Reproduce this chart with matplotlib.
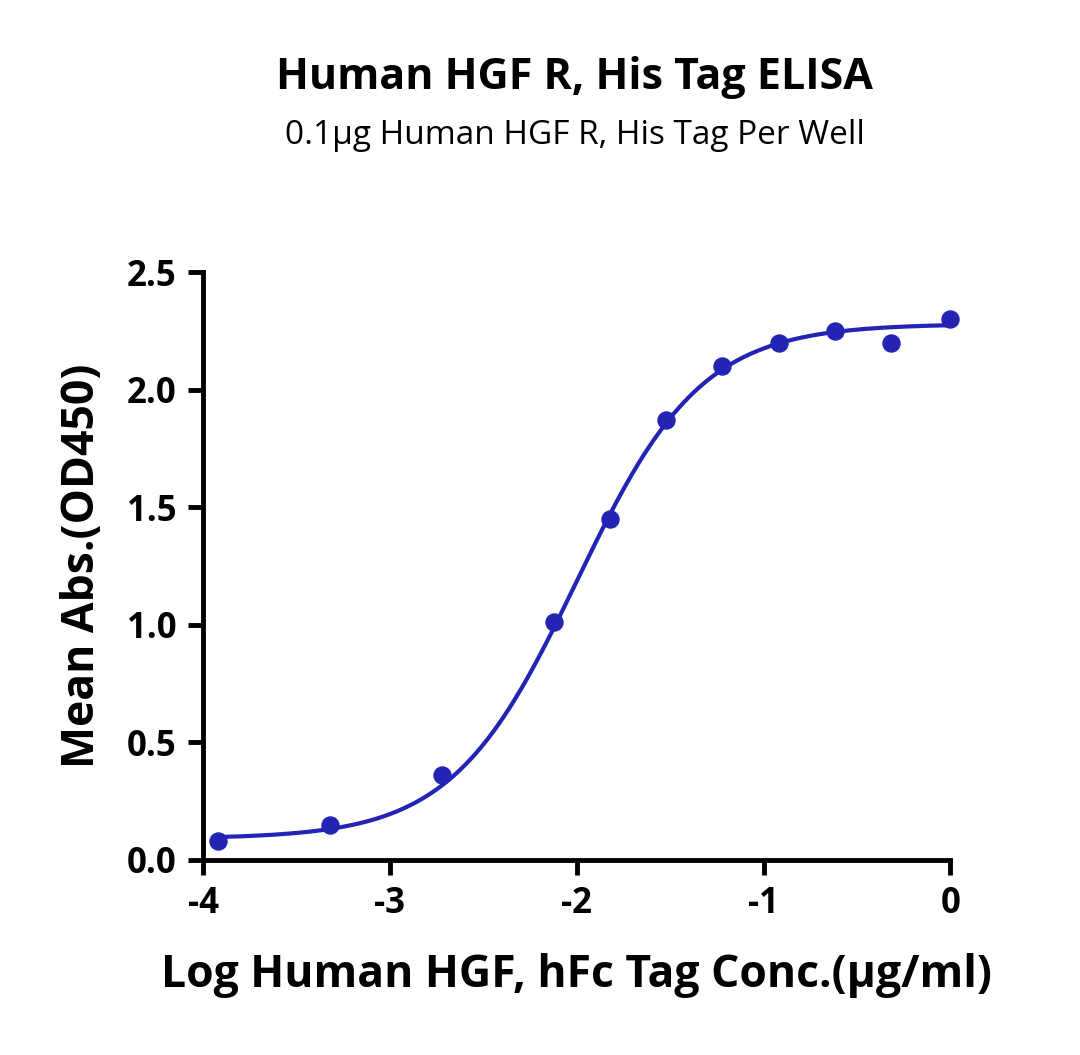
import numpy as np
import matplotlib
matplotlib.use("Agg")
import matplotlib.pyplot as plt

plt.rcParams['font.family'] = ['Open Sans', 'DejaVu Sans']

log_conc = [-3.92, -3.32, -2.72, -2.12, -1.82, -1.52, -1.22, -0.92, -0.62, -0.32, 0.0]
mean_abs = [0.08, 0.15, 0.36, 1.01, 1.45, 1.87, 2.10, 2.20, 2.25, 2.20, 2.30]

# 4PL fit parameters
fit_bottom, fit_top, fit_logec50, fit_hill = 0.09, 2.28, -2.0, 1.3

color = '#2323b4'

fig = plt.figure(figsize=(10.8, 10.55), dpi=100)
ax = fig.add_axes([0.188, 0.185, 0.692, 0.557])

xs = np.linspace(-3.92, 0.0, 300)
ys = fit_bottom + (fit_top - fit_bottom) / (1 + 10 ** ((fit_logec50 - xs) * fit_hill))
ax.plot(xs, ys, color=color, lw=3)
ax.scatter(log_conc, mean_abs, color=color, s=150, zorder=3, clip_on=False)

ax.set_xlim(-4, 0)
ax.set_ylim(0, 2.5)
ax.set_xticks([-4, -3, -2, -1, 0])
ax.set_xticklabels(['-4', '-3', '-2', '-1', '0'])
ax.set_yticks([0, 0.5, 1.0, 1.5, 2.0, 2.5])
ax.set_yticklabels(['0.0', '0.5', '1.0', '1.5', '2.0', '2.5'])
for s in ['top', 'right']:
    ax.spines[s].set_visible(False)
for s in ['left', 'bottom']:
    ax.spines[s].set_linewidth(3.5)
ax.tick_params(width=3.5, length=11, labelsize=25, pad=8)
for lab in ax.get_xticklabels() + ax.get_yticklabels():
    lab.set_fontweight('bold')

ax.set_xlabel('Log Human HGF, hFc Tag Conc.(μg/ml)', fontsize=32, fontweight='bold', labelpad=22)
ax.set_ylabel('Mean Abs.(OD450)', fontsize=32, fontweight='bold', labelpad=16)

fig.text(0.532, 0.927, 'Human HGF R, His Tag ELISA', ha='center', va='center', fontsize=31, fontweight='bold')
fig.text(0.532, 0.872, '0.1μg Human HGF R, His Tag Per Well', ha='center', va='center', fontsize=24)

fig.savefig('out.png', dpi=100)
